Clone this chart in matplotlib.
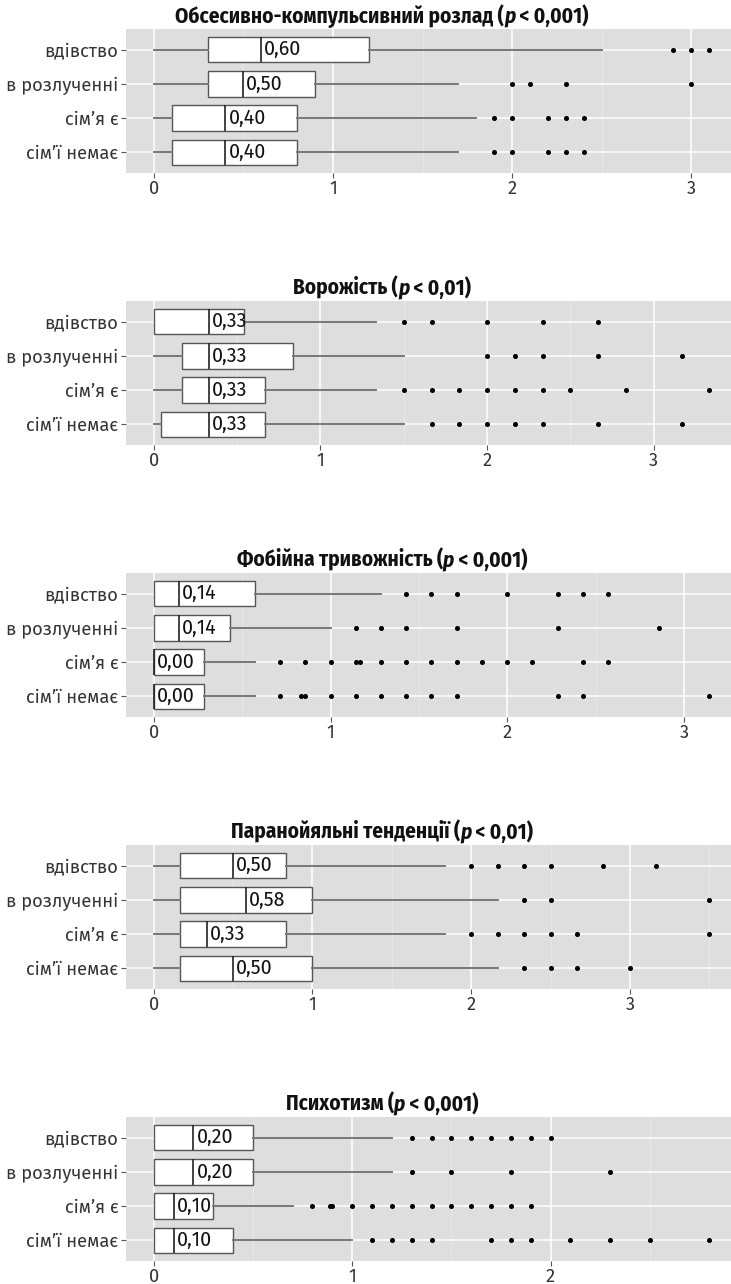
import matplotlib
matplotlib.use('Agg')
import matplotlib.pyplot as plt
from matplotlib import font_manager as fm
from matplotlib.transforms import offset_copy
from matplotlib.textpath import TextPath
from matplotlib.font_manager import FontProperties

W, H, DPI = 731, 1284, 100

# ---------------- data ----------------
categories = ['вдівство', 'в розлученні', 'сім’я є', 'сім’ї немає']

ocd_title = ('Обсесивно-компульсивний розлад (', ' < 0,001)')
ocd_q1 = [0.30, 0.30, 0.10, 0.10]
ocd_med = [0.60, 0.50, 0.40, 0.40]
ocd_q3 = [1.20, 0.90, 0.80, 0.80]
ocd_lo = [0.0, 0.0, 0.0, 0.0]
ocd_hi = [2.5, 1.7, 1.8, 1.7]
ocd_out = [[2.9, 3.0, 3.1],
           [2.0, 2.1, 2.3, 3.0],
           [1.9, 2.0, 2.2, 2.3, 2.4],
           [1.9, 2.0, 2.2, 2.3, 2.4]]

hos_title = ('Ворожість (', ' < 0,01)')
hos_q1 = [0.0, 0.167, 0.167, 0.042]
hos_med = [0.333, 0.333, 0.333, 0.333]
hos_q3 = [0.542, 0.833, 0.667, 0.667]
hos_lo = [0.0, 0.0, 0.0, 0.0]
hos_hi = [1.333, 1.5, 1.333, 1.5]
hos_out = [[1.5, 1.667, 2.0, 2.333, 2.667],
           [2.0, 2.167, 2.333, 2.667, 3.167],
           [1.5, 1.667, 1.833, 2.0, 2.167, 2.333, 2.5, 2.833, 3.333],
           [1.667, 1.833, 2.0, 2.167, 2.333, 2.667, 3.167]]

phob_title = ('Фобійна тривожність (', ' < 0,001)')
phob_q1 = [0.0, 0.0, 0.0, 0.0]
phob_med = [0.143, 0.143, 0.0, 0.0]
phob_q3 = [0.571, 0.429, 0.286, 0.286]
phob_lo = [0.0, 0.0, 0.0, 0.0]
phob_hi = [1.286, 1.0, 0.571, 0.571]
phob_out = [[1.429, 1.571, 1.714, 2.0, 2.286, 2.429, 2.571],
            [1.143, 1.286, 1.429, 1.714, 2.286, 2.857],
            [0.714, 0.857, 1.0, 1.143, 1.167, 1.286, 1.429, 1.571, 1.714,
             1.857, 2.0, 2.143, 2.429, 2.571],
            [0.714, 0.833, 0.857, 1.0, 1.143, 1.286, 1.429, 1.571, 1.714,
             2.286, 2.429, 3.143]]

par_title = ('Паранойяльні тенденції (', ' < 0,01)')
par_q1 = [0.167, 0.167, 0.167, 0.167]
par_med = [0.5, 0.583, 0.333, 0.5]
par_q3 = [0.833, 1.0, 0.833, 1.0]
par_lo = [0.0, 0.0, 0.0, 0.0]
par_hi = [1.833, 2.167, 1.833, 2.167]
par_out = [[2.0, 2.167, 2.333, 2.5, 2.833, 3.167],
           [2.333, 2.5, 3.5],
           [2.0, 2.167, 2.333, 2.5, 2.667, 3.5],
           [2.333, 2.5, 2.667, 3.0]]

psy_title = ('Психотизм (', ' < 0,001)')
psy_q1 = [0.0, 0.0, 0.0, 0.0]
psy_med = [0.2, 0.2, 0.1, 0.1]
psy_q3 = [0.5, 0.5, 0.3, 0.4]
psy_lo = [0.0, 0.0, 0.0, 0.0]
psy_hi = [1.2, 1.2, 0.7, 1.0]
psy_out = [[1.3, 1.4, 1.5, 1.6, 1.7, 1.8, 1.9, 2.0],
           [1.3, 1.5, 1.8, 2.3],
           [0.8, 0.89, 0.9, 1.0, 1.1, 1.2, 1.3, 1.4, 1.5, 1.6, 1.7, 1.8, 1.9],
           [1.1, 1.2, 1.3, 1.4, 1.7, 1.8, 1.9, 2.1, 2.3, 2.5, 2.8]]

panels = [
    (ocd_title, ocd_q1, ocd_med, ocd_q3, ocd_lo, ocd_hi, ocd_out),
    (hos_title, hos_q1, hos_med, hos_q3, hos_lo, hos_hi, hos_out),
    (phob_title, phob_q1, phob_med, phob_q3, phob_lo, phob_hi, phob_out),
    (par_title, par_q1, par_med, par_q3, par_lo, par_hi, par_out),
    (psy_title, psy_q1, psy_med, psy_q3, psy_lo, psy_hi, psy_out),
]

# ---------------- style ----------------
names = {f.name for f in fm.fontManager.ttflist}
FONT = 'Fira Sans' if 'Fira Sans' in names else 'DejaVu Sans'
TFONT = 'Fira Sans Condensed' if 'Fira Sans Condensed' in names else FONT
plt.rcParams['font.family'] = [FONT, 'DejaVu Sans']


def fit_size(text, target_px, family, weight='normal'):
    fp = FontProperties(family=family, weight=weight, size=10)
    w = TextPath((0, 0), text, prop=fp).get_extents().width  # in points at 10pt
    w_px = w * DPI / 72.0
    return 10.0 * target_px / w_px


TICK_FS = fit_size('в розлученні', 109, FONT)
LABEL_FS = fit_size('0,10', 33, FONT)
TITLE_FS = fit_size('Обсесивно-компульсивний розлад (p < 0,001)', 413, TFONT, 'bold')
BG = '#DEDEDE'

AX_LEFT, AX_W, AX_TOP0, AX_H, STEP = 126, 611, 29, 144, 272
TITLE_CX = 382

fig = plt.figure(figsize=(W / DPI, H / DPI), dpi=DPI)
fig.patch.set_facecolor('white')

title_parts = []
for i, (ttl, q1, med, q3, lo, hi, out) in enumerate(panels):
    top = AX_TOP0 + STEP * i
    ax = fig.add_axes([AX_LEFT / W, 1 - (top + AX_H) / H, AX_W / W, AX_H / H])
    ax.set_facecolor(BG)
    for s in ax.spines.values():
        s.set_visible(False)

    pos = list(range(1, len(categories) + 1))
    stats = [dict(med=m, q1=a, q3=b, whislo=l, whishi=h, fliers=f, label=c)
             for m, a, b, l, h, f, c in zip(med, q1, q3, lo, hi, out, categories)]
    ax.bxp(stats, positions=pos, widths=0.75, orientation='horizontal',
           patch_artist=True, showcaps=False,
           boxprops=dict(facecolor='white', edgecolor='#555555', linewidth=1.0),
           medianprops=dict(color='#222222', linewidth=1.2),
           whiskerprops=dict(color='#777777', linewidth=1.4),
           flierprops=dict(marker='o', markersize=2.6, markerfacecolor='black',
                           markeredgecolor='black', linestyle='none'),
           zorder=3)

    vmax = max(max(hi), max(max(o) for o in out))
    xlo, xhi = -0.05 * vmax, vmax * 1.05
    ax.set_xlim(xlo, xhi)
    ax.set_ylim(len(categories) + 0.6, 0.4)

    majors = [k for k in range(0, 10) if k <= xhi]
    minors = [k + 0.5 for k in range(0, 10) if k + 0.5 <= xhi]
    ax.set_xticks(majors)
    ax.set_xticklabels([str(k) for k in majors])
    ax.set_xticks(minors, minor=True)
    ax.set_yticks(pos)
    ax.set_yticklabels(categories)
    ax.grid(which='major', color='white', linewidth=1.1, zorder=0)
    ax.grid(which='minor', axis='x', color='#EAEAEA', linewidth=0.6, zorder=0)
    ax.set_axisbelow(True)
    ax.tick_params(which='major', length=3.5, width=0.8, color='#555555',
                   labelcolor='#333333', labelsize=TICK_FS, pad=1.5)
    ax.tick_params(axis='y', pad=2)
    ax.tick_params(which='minor', length=0)

    tr = offset_copy(ax.transData, fig=fig, x=3, y=0, units='dots')
    for m, p in zip(med, pos):
        ax.text(m, p, f'{m:.2f}'.replace('.', ','), transform=tr,
                ha='left', va='center', fontsize=LABEL_FS, color='#111111',
                zorder=5)

    ty = 1 - (top - 6) / H
    kw = dict(fontsize=TITLE_FS, fontweight='bold', color='#111111',
              va='baseline', ha='left', family=[TFONT, 'DejaVu Sans'])
    t1 = fig.text(0, ty, ttl[0], **kw)
    t2 = fig.text(0, ty, 'p', fontstyle='italic', **kw)
    t3 = fig.text(0, ty, ttl[1], **kw)
    title_parts.append((t1, t2, t3))

fig.canvas.draw()
r = fig.canvas.get_renderer()
for parts in title_parts:
    widths = [t.get_window_extent(r).width for t in parts]
    x = TITLE_CX - sum(widths) / 2
    for t, w in zip(parts, widths):
        t.set_x(x / W)
        x += w

fig.savefig('out.png', dpi=DPI, facecolor='white')
